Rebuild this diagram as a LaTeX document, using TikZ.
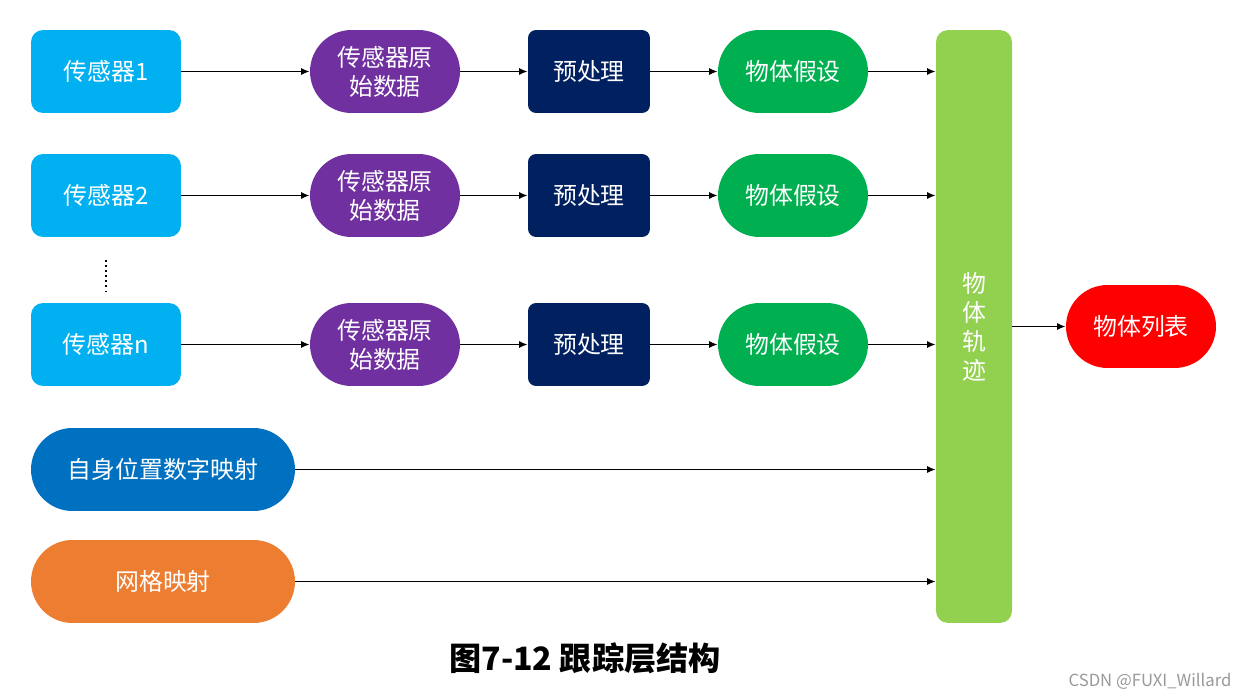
\documentclass[tikz,border=0pt]{standalone}
\usepackage{fontspec}
\setmainfont{Noto Sans CJK SC}
\usetikzlibrary{arrows.meta}

\definecolor{sensorblue}{HTML}{00B0F0}
\definecolor{rawpurple}{HTML}{7030A0}
\definecolor{prenavy}{HTML}{002060}
\definecolor{hypgreen}{HTML}{00B050}
\definecolor{tracklime}{HTML}{92D050}
\definecolor{listred}{HTML}{FF0000}
\definecolor{egoblue}{HTML}{0070C0}
\definecolor{gridorange}{HTML}{ED7D31}

\begin{document}
\begin{tikzpicture}[x=0.02cm, y=-0.02cm,
  box/.style={inner sep=0pt, text=white, align=center, font=\fontsize{13.6}{16.5}\selectfont},
  sensor/.style={box, fill=sensorblue, rounded corners=0.24cm, minimum width=3cm, minimum height=1.66cm},
  raw/.style={box, fill=rawpurple, rounded corners=0.83cm, minimum width=3cm, minimum height=1.66cm},
  prep/.style={box, fill=prenavy, rounded corners=0.16cm, minimum width=2.44cm, minimum height=1.66cm},
  hyp/.style={box, fill=hypgreen, rounded corners=0.83cm, minimum width=3cm, minimum height=1.66cm},
  wide/.style={box, rounded corners=0.83cm, minimum width=5.28cm, minimum height=1.66cm},
  link/.style={-{Latex[length=1.7mm,width=1.4mm]}, line width=0.9pt}]
  \useasboundingbox (0,0) rectangle (1246,699);

  % Sensor rows
  \node[sensor] (sensor1) at (106,71.5) {传感器1};
  \node[sensor] (sensor2) at (106,195.5) {传感器2};
  \node[sensor] (sensorn) at (106,344.5) {传感器n};

  \node[raw] (raw1) at (385,71.5) {传感器原\\始数据};
  \node[raw] (raw2) at (385,195.5) {传感器原\\始数据};
  \node[raw] (rawn) at (385,344.5) {传感器原\\始数据};

  \node[prep] (prep1) at (589,71.5) {预处理};
  \node[prep] (prep2) at (589,195.5) {预处理};
  \node[prep] (prepn) at (589,344.5) {预处理};

  \node[hyp] (hyp1) at (793,71.5) {物体假设};
  \node[hyp] (hyp2) at (793,195.5) {物体假设};
  \node[hyp] (hypn) at (793,344.5) {物体假设};

  % Ellipsis between sensor 2 and sensor n
  \coordinate (dotstop) at (106,260);
  \coordinate (dotsbot) at (106,291);
  \draw[dotted, line width=0.9pt] (dotstop) -- (dotsbot);

  % Map inputs
  \node[wide, fill=egoblue] (ego) at (163,469.5) {自身位置数字映射};
  \node[wide, fill=gridorange] (grid) at (163,581.5) {网格映射};

  % Track bar and output
  \node[box, fill=tracklime, rounded corners=0.24cm, minimum width=1.52cm, minimum height=11.86cm] (track) at (974,326.5) {物\\体\\轨\\迹};
  \node[box, fill=listred, rounded corners=0.83cm, minimum width=3cm, minimum height=1.66cm] (list) at (1141,326.5) {物体列表};

  % Arrows
  \draw[link] (sensor1) -- (raw1);
  \draw[link] (raw1) -- (prep1);
  \draw[link] (prep1) -- (hyp1);
  \draw[link] (hyp1) -- (hyp1 -| track.west);
  \draw[link] (sensor2) -- (raw2);
  \draw[link] (raw2) -- (prep2);
  \draw[link] (prep2) -- (hyp2);
  \draw[link] (hyp2) -- (hyp2 -| track.west);
  \draw[link] (sensorn) -- (rawn);
  \draw[link] (rawn) -- (prepn);
  \draw[link] (prepn) -- (hypn);
  \draw[link] (hypn) -- (hypn -| track.west);
  \draw[link] (ego) -- (ego -| track.west);
  \draw[link] (grid) -- (grid -| track.west);
  \draw[link] (track.east |- list) -- (list);

  % Caption and watermark
  \node[font=\fontsize{18.3}{21}\selectfont\bfseries] (caption) at (585,658) {图7-12 跟踪层结构};
  \node[font=\fontsize{9.5}{11}\selectfont, text=black!40] (mark) at (1150,681) {CSDN @FUXI\_Willard};
\end{tikzpicture}
\end{document}
